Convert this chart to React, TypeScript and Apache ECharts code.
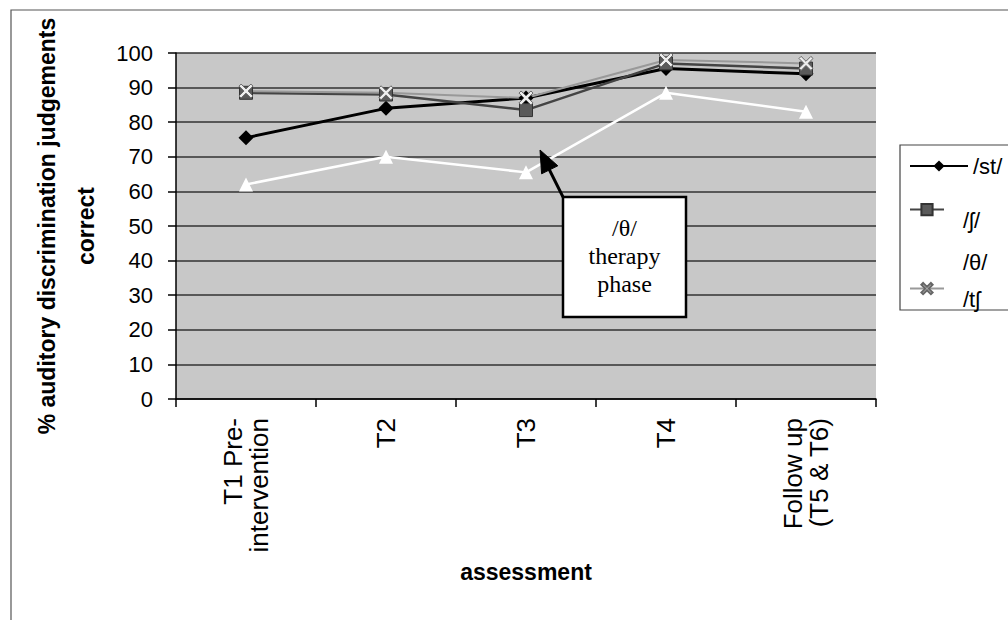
import React, { useEffect, useRef } from 'react';
import * as echarts from 'echarts';

const categories = ['T1 Pre-\nintervention', 'T2', 'T3', 'T4', 'Follow up\n(T5 & T6)'];
const seriesNames = ['/st/', '/ʃ/', '/θ/', '/tʃ'];
const stValues = [75.5, 84, 87, 95.5, 94];
const shValues = [88.5, 88, 83.5, 97, 95.5];
const thValues = [62, 70, 65.5, 88.5, 83];
const tchValues = [89, 88.5, 87, 98, 97];
const yMin = 0;
const yMax = 100;
const yStep = 10;
const xAxisTitle = 'assessment';
const yAxisTitle = '% auditory discrimination judgements\ncorrect';
const annotationText = '/θ/\ntherapy\nphase';

const SANS = '"Liberation Sans", Arial, sans-serif';
const SERIF = '"Liberation Serif", "Times New Roman", serif';
const X_SYMBOL = 'path://M0,1.5L1.5,0L5,3.5L8.5,0L10,1.5L6.5,5L10,8.5L8.5,10L5,6.5L1.5,10L0,8.5L3.5,5Z';

export default function App() {
  const ref = useRef<HTMLDivElement>(null);
  useEffect(() => {
    if (!ref.current) return;
    const chart = echarts.init(ref.current, null, { renderer: 'svg' });
    const legendRows = [
      { name: seriesNames[0], top: 155, w: 58, dy: 0, dx: 0 },
      { name: seriesNames[1], top: 203, w: 34, dy: 22, dx: 14 },
      { name: seriesNames[2], top: 251, w: 34, dy: 8, dx: 14 },
      { name: seriesNames[3], top: 282, w: 34, dy: 22, dx: 14 },
    ];
    const option: any = {
      animation: false,
      backgroundColor: '#ffffff',
      grid: {
        left: 176,
        top: 53,
        width: 700,
        height: 346,
        show: true,
        backgroundColor: '#c8c8c8',
        borderWidth: 0,
      },
      legend: legendRows.map((r) => ({
        left: 909,
        top: r.top,
        padding: 0,
        itemWidth: r.w,
        itemHeight: 14,
        data: [r.name],
        selectedMode: false,
        formatter: (n: string) => `{t|${n}}`,
        textStyle: {
          fontSize: 22,
          color: '#000',
          fontFamily: SANS,
          rich: {
            t: {
              fontSize: 22,
              color: '#000',
              fontFamily: SANS,
              padding: [r.dy, 0, 0, r.dx],
            },
          },
        },
      })),
      xAxis: {
        type: 'category',
        data: categories,
        boundaryGap: true,
        name: xAxisTitle,
        nameLocation: 'middle',
        nameGap: 160,
        nameTextStyle: { fontSize: 23, fontWeight: 'bold', color: '#000', fontFamily: SANS },
        axisLine: { show: true, lineStyle: { color: '#000', width: 1.5 } },
        axisTick: { show: true, length: 8, lineStyle: { color: '#000', width: 1.5 } },
        axisLabel: {
          rotate: 90,
          margin: 19,
          fontSize: 26,
          lineHeight: 26,
          color: '#000',
          fontFamily: SANS,
        },
        splitLine: { show: false },
      },
      yAxis: {
        type: 'value',
        min: yMin,
        max: yMax,
        interval: yStep,
        name: yAxisTitle,
        nameLocation: 'middle',
        nameRotate: 90,
        nameGap: 71,
        nameTextStyle: {
          fontSize: 23,
          fontWeight: 'bold',
          color: '#000',
          fontFamily: SANS,
          lineHeight: 39,
          align: 'center',
        },
        axisLine: { show: true, lineStyle: { color: '#000', width: 1.5 } },
        axisTick: { show: true, length: 8, lineStyle: { color: '#000', width: 1.5 } },
        axisLabel: { margin: 23, fontSize: 22, color: '#000', fontFamily: SANS },
        splitLine: { show: true, lineStyle: { color: '#333', width: 1.5 } },
      },
      series: [
        {
          name: seriesNames[0],
          type: 'line',
          data: stValues,
          symbol: 'diamond',
          symbolSize: 15,
          lineStyle: { color: '#000', width: 3 },
          itemStyle: { color: '#000' },
        },
        {
          name: seriesNames[1],
          type: 'line',
          data: shValues,
          symbol: 'rect',
          symbolSize: 13,
          lineStyle: { color: '#444', width: 2.5 },
          itemStyle: { color: '#5a5a5a', borderColor: '#333', borderWidth: 1 },
        },
        {
          name: seriesNames[2],
          type: 'line',
          data: thValues,
          symbol: 'triangle',
          symbolSize: 14,
          lineStyle: { color: '#ffffff', width: 2.5 },
          itemStyle: { color: '#ffffff' },
        },
        {
          name: seriesNames[3],
          type: 'line',
          data: tchValues,
          symbol: X_SYMBOL,
          symbolSize: 14,
          lineStyle: { color: '#999', width: 2 },
          itemStyle: { color: '#eeeeee', borderColor: '#666', borderWidth: 1 },
        },
      ],
      graphic: [
        {
          type: 'rect',
          z: 0,
          silent: true,
          shape: { x: 11, y: 10, width: 1200, height: 800 },
          style: { fill: 'none', stroke: '#555', lineWidth: 1.2 },
        },
        {
          type: 'rect',
          z: 0,
          silent: true,
          shape: { x: 900, y: 145, width: 300, height: 165 },
          style: { fill: 'none', stroke: '#444', lineWidth: 1.2 },
        },
        {
          type: 'line',
          z: 100,
          silent: true,
          shape: { x1: 563, y1: 197, x2: 548, y2: 167 },
          style: { stroke: '#000', lineWidth: 3 },
        },
        {
          type: 'polygon',
          z: 100,
          silent: true,
          shape: { points: [[540, 150], [557.8, 165.8], [541.6, 173.8]] },
          style: { fill: '#000', stroke: '#000', lineWidth: 1 },
        },
        {
          type: 'rect',
          z: 100,
          silent: true,
          shape: { x: 563, y: 197, width: 123, height: 120 },
          style: { fill: '#ffffff', stroke: '#000', lineWidth: 2.5 },
        },
        {
          type: 'text',
          z: 101,
          silent: true,
          x: 624.5,
          y: 256,
          style: {
            text: annotationText,
            fontSize: 24,
            lineHeight: 28,
            fontFamily: SERIF,
            fill: '#000',
            align: 'center',
            verticalAlign: 'middle',
          },
        },
      ],
    };
    chart.setOption(option);
    return () => chart.dispose();
  }, []);
  return (
    <div
      ref={ref}
      style={{ position: 'absolute', left: 0, top: 0, width: 1008, height: 620, background: '#fff' }}
    />
  );
}
